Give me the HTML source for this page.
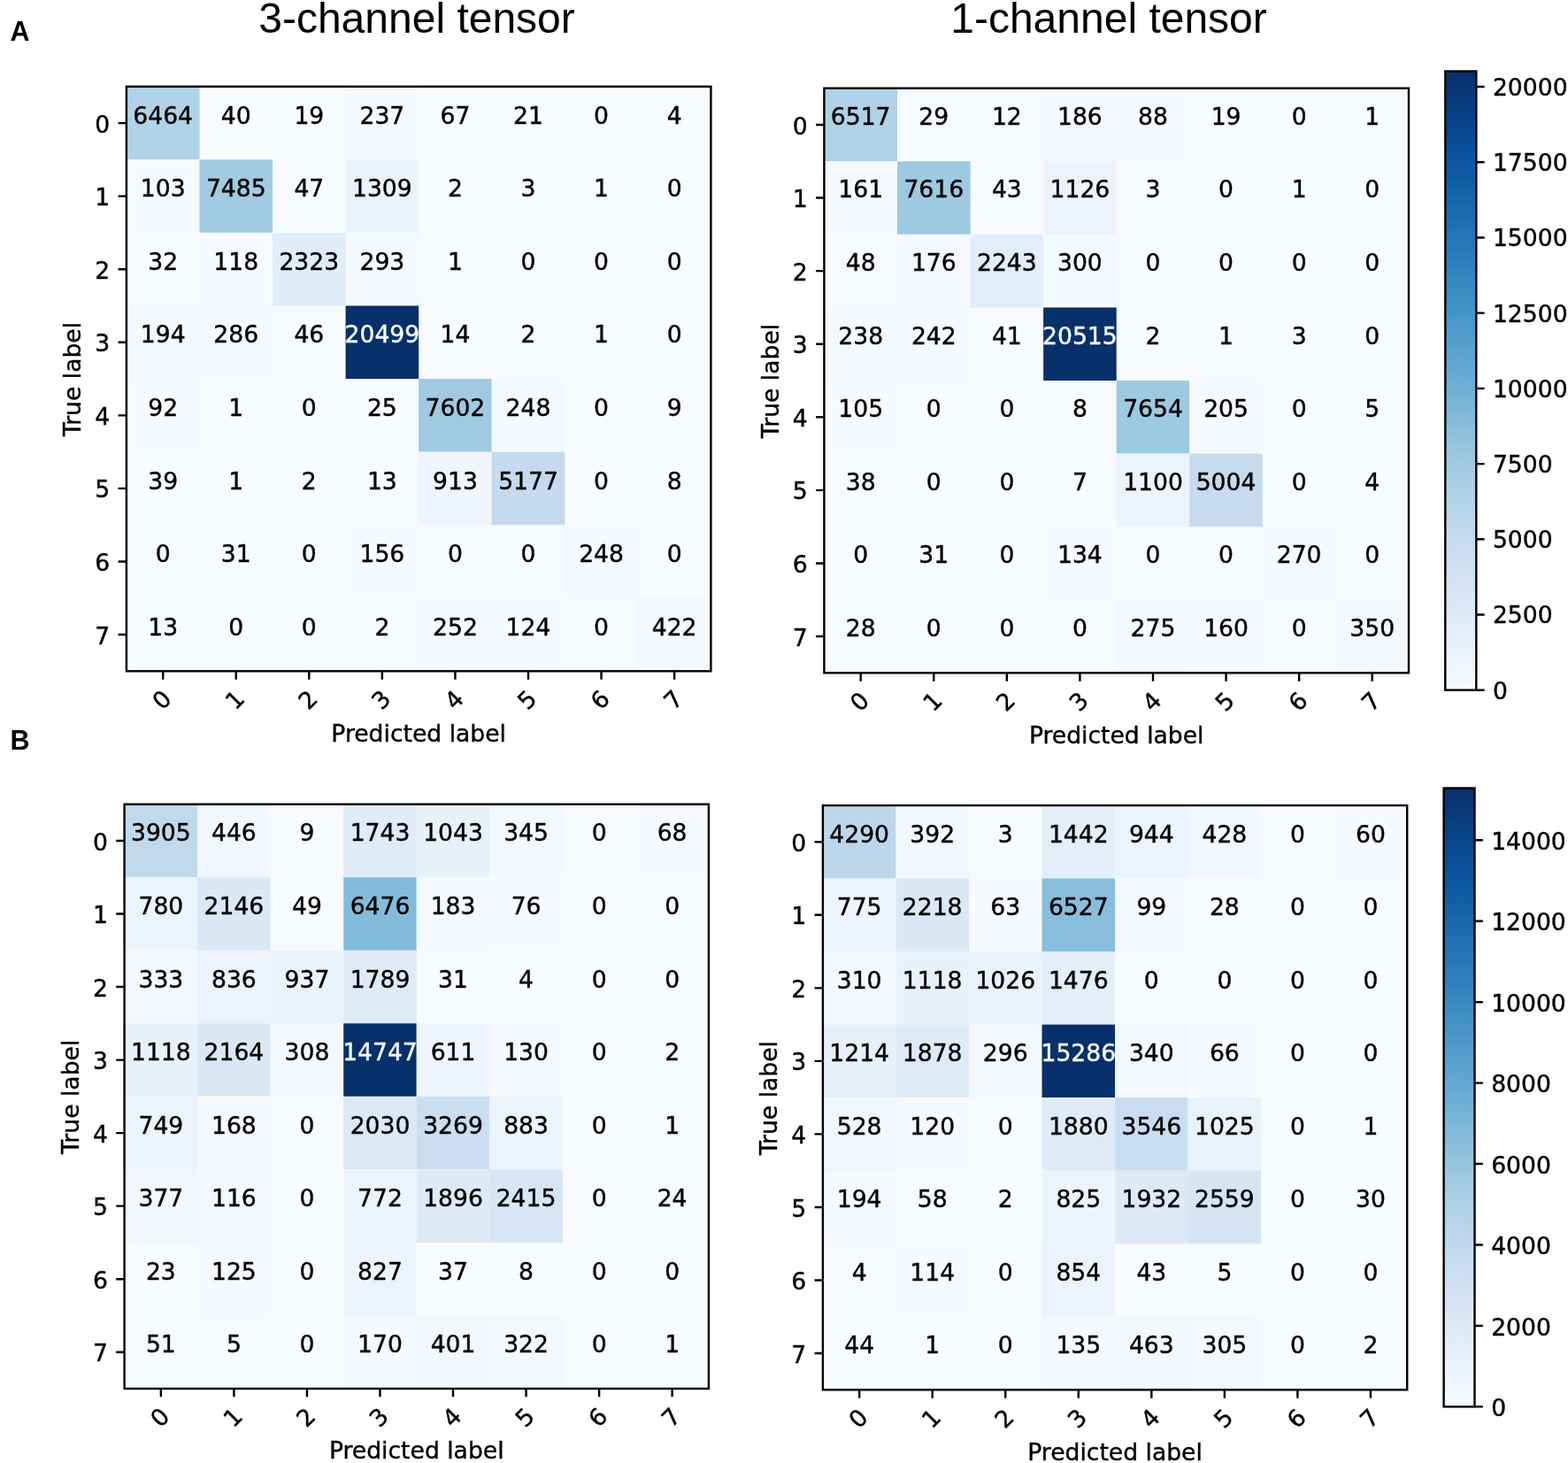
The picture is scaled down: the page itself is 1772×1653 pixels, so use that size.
<!DOCTYPE html>
<html lang="en"><head><meta charset="utf-8"><title>Confusion matrices: 3-channel tensor vs 1-channel tensor</title>
<style>html,body{margin:0;padding:0;background:#fff}body{width:1772px;height:1653px;overflow:hidden}svg{display:block}.m{font-family:"DejaVu Sans","Liberation Sans",sans-serif;font-size:26.6px;fill:#000;stroke:#000;stroke-width:.4px;stroke-linejoin:round}.c{text-anchor:middle}.r{text-anchor:end}.w{fill:#f7fbff;stroke:#f7fbff}.t{font-family:"Liberation Sans","DejaVu Sans",sans-serif;font-size:48px;fill:#000;text-anchor:middle}.p{font-family:"Liberation Sans","DejaVu Sans",sans-serif;font-size:30.5px;font-weight:bold;fill:#000}.k{stroke:#000;stroke-width:2.4;fill:none}</style></head><body>
<svg width="1772" height="1653" viewBox="0 0 1772 1653">
<defs>
<linearGradient id="bl" x1="0" y1="0" x2="0" y2="1"><stop offset="0" stop-color="#08306b"/><stop offset="0.0312" stop-color="#083775"/><stop offset="0.0625" stop-color="#083f82"/><stop offset="0.0938" stop-color="#08478e"/><stop offset="0.125" stop-color="#08509a"/><stop offset="0.1562" stop-color="#0d58a1"/><stop offset="0.1875" stop-color="#1360a7"/><stop offset="0.2188" stop-color="#1a68ae"/><stop offset="0.25" stop-color="#2070b4"/><stop offset="0.2812" stop-color="#2878b8"/><stop offset="0.3125" stop-color="#3080bd"/><stop offset="0.3438" stop-color="#3989c1"/><stop offset="0.375" stop-color="#4191c5"/><stop offset="0.4062" stop-color="#4b98c9"/><stop offset="0.4375" stop-color="#559fcd"/><stop offset="0.4688" stop-color="#60a6d1"/><stop offset="0.5" stop-color="#6aadd5"/><stop offset="0.5312" stop-color="#77b4d8"/><stop offset="0.5625" stop-color="#83bbdb"/><stop offset="0.5938" stop-color="#90c2de"/><stop offset="0.625" stop-color="#9dc9e0"/><stop offset="0.6562" stop-color="#a7cee4"/><stop offset="0.6875" stop-color="#b1d2e7"/><stop offset="0.7188" stop-color="#bbd6eb"/><stop offset="0.75" stop-color="#c5daee"/><stop offset="0.7812" stop-color="#cbdef0"/><stop offset="0.8125" stop-color="#d1e2f2"/><stop offset="0.8438" stop-color="#d7e6f4"/><stop offset="0.875" stop-color="#ddeaf6"/><stop offset="0.9062" stop-color="#e4eef8"/><stop offset="0.9375" stop-color="#eaf2fa"/><stop offset="0.9688" stop-color="#f0f6fc"/><stop offset="1" stop-color="#f7fbff"/></linearGradient>
</defs>
<rect width="1772" height="1653" fill="#fff"/>
<text class="t" x="471" y="36.8">3-channel tensor</text>
<text class="t" x="1253" y="36.8">1-channel tensor</text>
<text class="p" x="11.6" y="46">A</text>
<text class="p" x="11.6" y="847.4">B</text>
<g>
<rect x="142.9" y="97.8" width="660.5" height="660.5" fill="#f7fbff"/>
<rect x="142.9" y="97.8" width="82.56" height="82.56" fill="#b1d2e7"/>
<rect x="390.59" y="97.8" width="82.56" height="82.56" fill="#f5f9fe"/>
<rect x="142.9" y="180.36" width="82.56" height="82.56" fill="#f6fafe"/>
<rect x="225.46" y="180.36" width="82.56" height="82.56" fill="#a1cbe2"/>
<rect x="390.59" y="180.36" width="82.56" height="82.56" fill="#eaf2fa"/>
<rect x="225.46" y="262.93" width="82.56" height="82.56" fill="#f6fafe"/>
<rect x="308.02" y="262.93" width="82.56" height="82.56" fill="#e0ecf7"/>
<rect x="390.59" y="262.93" width="82.56" height="82.56" fill="#f4f9fe"/>
<rect x="142.9" y="345.49" width="82.56" height="82.56" fill="#f5f9fe"/>
<rect x="225.46" y="345.49" width="82.56" height="82.56" fill="#f4f9fe"/>
<rect x="390.59" y="345.49" width="82.56" height="82.56" fill="#08306b"/>
<rect x="142.9" y="428.05" width="82.56" height="82.56" fill="#f6fafe"/>
<rect x="473.15" y="428.05" width="82.56" height="82.56" fill="#a0cae1"/>
<rect x="555.71" y="428.05" width="82.56" height="82.56" fill="#f4f9fe"/>
<rect x="473.15" y="510.61" width="82.56" height="82.56" fill="#eef5fc"/>
<rect x="555.71" y="510.61" width="82.56" height="82.56" fill="#c5daee"/>
<rect x="390.59" y="593.17" width="82.56" height="82.56" fill="#f6fafe"/>
<rect x="638.27" y="593.17" width="82.56" height="82.56" fill="#f4f9fe"/>
<rect x="473.15" y="675.74" width="82.56" height="82.56" fill="#f4f9fe"/>
<rect x="555.71" y="675.74" width="82.56" height="82.56" fill="#f6fafe"/>
<rect x="720.84" y="675.74" width="82.56" height="82.56" fill="#f3f8fd"/>
<rect class="k" x="142.9" y="97.8" width="660.5" height="660.5"/>
<path class="k" d="M142.9 139.08h-9.33M184.18 758.3v9.33M142.9 221.64h-9.33M266.74 758.3v9.33M142.9 304.21h-9.33M349.31 758.3v9.33M142.9 386.77h-9.33M431.87 758.3v9.33M142.9 469.33h-9.33M514.43 758.3v9.33M142.9 551.89h-9.33M596.99 758.3v9.33M142.9 634.46h-9.33M679.56 758.3v9.33M142.9 717.02h-9.33M762.12 758.3v9.33"/>
<text class="m c" x="184.18" y="139.78">6464</text>
<text class="m c" x="266.74" y="139.78">40</text>
<text class="m c" x="349.31" y="139.78">19</text>
<text class="m c" x="431.87" y="139.78">237</text>
<text class="m c" x="514.43" y="139.78">67</text>
<text class="m c" x="596.99" y="139.78">21</text>
<text class="m c" x="679.56" y="139.78">0</text>
<text class="m c" x="762.12" y="139.78">4</text>
<text class="m c" x="184.18" y="222.34">103</text>
<text class="m c" x="266.74" y="222.34">7485</text>
<text class="m c" x="349.31" y="222.34">47</text>
<text class="m c" x="431.87" y="222.34">1309</text>
<text class="m c" x="514.43" y="222.34">2</text>
<text class="m c" x="596.99" y="222.34">3</text>
<text class="m c" x="679.56" y="222.34">1</text>
<text class="m c" x="762.12" y="222.34">0</text>
<text class="m c" x="184.18" y="304.91">32</text>
<text class="m c" x="266.74" y="304.91">118</text>
<text class="m c" x="349.31" y="304.91">2323</text>
<text class="m c" x="431.87" y="304.91">293</text>
<text class="m c" x="514.43" y="304.91">1</text>
<text class="m c" x="596.99" y="304.91">0</text>
<text class="m c" x="679.56" y="304.91">0</text>
<text class="m c" x="762.12" y="304.91">0</text>
<text class="m c" x="184.18" y="387.47">194</text>
<text class="m c" x="266.74" y="387.47">286</text>
<text class="m c" x="349.31" y="387.47">46</text>
<text class="m c w" x="431.87" y="387.47">20499</text>
<text class="m c" x="514.43" y="387.47">14</text>
<text class="m c" x="596.99" y="387.47">2</text>
<text class="m c" x="679.56" y="387.47">1</text>
<text class="m c" x="762.12" y="387.47">0</text>
<text class="m c" x="184.18" y="470.03">92</text>
<text class="m c" x="266.74" y="470.03">1</text>
<text class="m c" x="349.31" y="470.03">0</text>
<text class="m c" x="431.87" y="470.03">25</text>
<text class="m c" x="514.43" y="470.03">7602</text>
<text class="m c" x="596.99" y="470.03">248</text>
<text class="m c" x="679.56" y="470.03">0</text>
<text class="m c" x="762.12" y="470.03">9</text>
<text class="m c" x="184.18" y="552.59">39</text>
<text class="m c" x="266.74" y="552.59">1</text>
<text class="m c" x="349.31" y="552.59">2</text>
<text class="m c" x="431.87" y="552.59">13</text>
<text class="m c" x="514.43" y="552.59">913</text>
<text class="m c" x="596.99" y="552.59">5177</text>
<text class="m c" x="679.56" y="552.59">0</text>
<text class="m c" x="762.12" y="552.59">8</text>
<text class="m c" x="184.18" y="635.16">0</text>
<text class="m c" x="266.74" y="635.16">31</text>
<text class="m c" x="349.31" y="635.16">0</text>
<text class="m c" x="431.87" y="635.16">156</text>
<text class="m c" x="514.43" y="635.16">0</text>
<text class="m c" x="596.99" y="635.16">0</text>
<text class="m c" x="679.56" y="635.16">248</text>
<text class="m c" x="762.12" y="635.16">0</text>
<text class="m c" x="184.18" y="717.72">13</text>
<text class="m c" x="266.74" y="717.72">0</text>
<text class="m c" x="349.31" y="717.72">0</text>
<text class="m c" x="431.87" y="717.72">2</text>
<text class="m c" x="514.43" y="717.72">252</text>
<text class="m c" x="596.99" y="717.72">124</text>
<text class="m c" x="679.56" y="717.72">0</text>
<text class="m c" x="762.12" y="717.72">422</text>
<text class="m r" x="124.24" y="149.68">0</text>
<text class="m r" x="124.24" y="232.24">1</text>
<text class="m r" x="124.24" y="314.81">2</text>
<text class="m r" x="124.24" y="397.37">3</text>
<text class="m r" x="124.24" y="479.93">4</text>
<text class="m r" x="124.24" y="562.49">5</text>
<text class="m r" x="124.24" y="645.06">6</text>
<text class="m r" x="124.24" y="727.62">7</text>
<text class="m c" transform="translate(182.58 790.5) rotate(-45)" y="9.7">0</text>
<text class="m c" transform="translate(265.14 790.5) rotate(-45)" y="9.7">1</text>
<text class="m c" transform="translate(347.71 790.5) rotate(-45)" y="9.7">2</text>
<text class="m c" transform="translate(430.27 790.5) rotate(-45)" y="9.7">3</text>
<text class="m c" transform="translate(512.83 790.5) rotate(-45)" y="9.7">4</text>
<text class="m c" transform="translate(595.39 790.5) rotate(-45)" y="9.7">5</text>
<text class="m c" transform="translate(677.96 790.5) rotate(-45)" y="9.7">6</text>
<text class="m c" transform="translate(760.52 790.5) rotate(-45)" y="9.7">7</text>
<text class="m c" x="473.15" y="837.5">Predicted label</text>
<text class="m c" transform="translate(91.4 428.55) rotate(-90)">True label</text>
</g>
<g>
<rect x="931.4" y="99.7" width="660.6" height="660.6" fill="#f7fbff"/>
<rect x="931.4" y="99.7" width="82.58" height="82.58" fill="#b0d1e7"/>
<rect x="1179.12" y="99.7" width="82.58" height="82.58" fill="#f5f9fe"/>
<rect x="1261.7" y="99.7" width="82.58" height="82.58" fill="#f6fafe"/>
<rect x="931.4" y="182.28" width="82.58" height="82.58" fill="#f5f9fe"/>
<rect x="1013.98" y="182.28" width="82.58" height="82.58" fill="#9ecae1"/>
<rect x="1179.12" y="182.28" width="82.58" height="82.58" fill="#ecf3fb"/>
<rect x="1013.98" y="264.85" width="82.58" height="82.58" fill="#f5f9fe"/>
<rect x="1096.55" y="264.85" width="82.58" height="82.58" fill="#e1edf8"/>
<rect x="1179.12" y="264.85" width="82.58" height="82.58" fill="#f4f9fe"/>
<rect x="931.4" y="347.43" width="82.58" height="82.58" fill="#f5f9fe"/>
<rect x="1013.98" y="347.43" width="82.58" height="82.58" fill="#f4f9fe"/>
<rect x="1179.12" y="347.43" width="82.58" height="82.58" fill="#08306b"/>
<rect x="931.4" y="430" width="82.58" height="82.58" fill="#f6fafe"/>
<rect x="1261.7" y="430" width="82.58" height="82.58" fill="#9ecae1"/>
<rect x="1344.28" y="430" width="82.58" height="82.58" fill="#f5f9fe"/>
<rect x="1261.7" y="512.58" width="82.58" height="82.58" fill="#ecf4fb"/>
<rect x="1344.28" y="512.58" width="82.58" height="82.58" fill="#c7dbef"/>
<rect x="1179.12" y="595.15" width="82.58" height="82.58" fill="#f6fafe"/>
<rect x="1426.85" y="595.15" width="82.58" height="82.58" fill="#f4f9fe"/>
<rect x="1261.7" y="677.73" width="82.58" height="82.58" fill="#f4f9fe"/>
<rect x="1344.28" y="677.73" width="82.58" height="82.58" fill="#f6fafe"/>
<rect x="1509.42" y="677.73" width="82.58" height="82.58" fill="#f3f8fd"/>
<rect class="k" x="931.4" y="99.7" width="660.6" height="660.6"/>
<path class="k" d="M931.4 140.99h-9.33M972.69 760.3v9.33M931.4 223.56h-9.33M1055.26 760.3v9.33M931.4 306.14h-9.33M1137.84 760.3v9.33M931.4 388.71h-9.33M1220.41 760.3v9.33M931.4 471.29h-9.33M1302.99 760.3v9.33M931.4 553.86h-9.33M1385.56 760.3v9.33M931.4 636.44h-9.33M1468.14 760.3v9.33M931.4 719.01h-9.33M1550.71 760.3v9.33"/>
<text class="m c" x="972.69" y="140.89">6517</text>
<text class="m c" x="1055.26" y="140.89">29</text>
<text class="m c" x="1137.84" y="140.89">12</text>
<text class="m c" x="1220.41" y="140.89">186</text>
<text class="m c" x="1302.99" y="140.89">88</text>
<text class="m c" x="1385.56" y="140.89">19</text>
<text class="m c" x="1468.14" y="140.89">0</text>
<text class="m c" x="1550.71" y="140.89">1</text>
<text class="m c" x="972.69" y="223.46">161</text>
<text class="m c" x="1055.26" y="223.46">7616</text>
<text class="m c" x="1137.84" y="223.46">43</text>
<text class="m c" x="1220.41" y="223.46">1126</text>
<text class="m c" x="1302.99" y="223.46">3</text>
<text class="m c" x="1385.56" y="223.46">0</text>
<text class="m c" x="1468.14" y="223.46">1</text>
<text class="m c" x="1550.71" y="223.46">0</text>
<text class="m c" x="972.69" y="306.04">48</text>
<text class="m c" x="1055.26" y="306.04">176</text>
<text class="m c" x="1137.84" y="306.04">2243</text>
<text class="m c" x="1220.41" y="306.04">300</text>
<text class="m c" x="1302.99" y="306.04">0</text>
<text class="m c" x="1385.56" y="306.04">0</text>
<text class="m c" x="1468.14" y="306.04">0</text>
<text class="m c" x="1550.71" y="306.04">0</text>
<text class="m c" x="972.69" y="388.61">238</text>
<text class="m c" x="1055.26" y="388.61">242</text>
<text class="m c" x="1137.84" y="388.61">41</text>
<text class="m c w" x="1220.41" y="388.61">20515</text>
<text class="m c" x="1302.99" y="388.61">2</text>
<text class="m c" x="1385.56" y="388.61">1</text>
<text class="m c" x="1468.14" y="388.61">3</text>
<text class="m c" x="1550.71" y="388.61">0</text>
<text class="m c" x="972.69" y="471.19">105</text>
<text class="m c" x="1055.26" y="471.19">0</text>
<text class="m c" x="1137.84" y="471.19">0</text>
<text class="m c" x="1220.41" y="471.19">8</text>
<text class="m c" x="1302.99" y="471.19">7654</text>
<text class="m c" x="1385.56" y="471.19">205</text>
<text class="m c" x="1468.14" y="471.19">0</text>
<text class="m c" x="1550.71" y="471.19">5</text>
<text class="m c" x="972.69" y="553.76">38</text>
<text class="m c" x="1055.26" y="553.76">0</text>
<text class="m c" x="1137.84" y="553.76">0</text>
<text class="m c" x="1220.41" y="553.76">7</text>
<text class="m c" x="1302.99" y="553.76">1100</text>
<text class="m c" x="1385.56" y="553.76">5004</text>
<text class="m c" x="1468.14" y="553.76">0</text>
<text class="m c" x="1550.71" y="553.76">4</text>
<text class="m c" x="972.69" y="636.34">0</text>
<text class="m c" x="1055.26" y="636.34">31</text>
<text class="m c" x="1137.84" y="636.34">0</text>
<text class="m c" x="1220.41" y="636.34">134</text>
<text class="m c" x="1302.99" y="636.34">0</text>
<text class="m c" x="1385.56" y="636.34">0</text>
<text class="m c" x="1468.14" y="636.34">270</text>
<text class="m c" x="1550.71" y="636.34">0</text>
<text class="m c" x="972.69" y="718.91">28</text>
<text class="m c" x="1055.26" y="718.91">0</text>
<text class="m c" x="1137.84" y="718.91">0</text>
<text class="m c" x="1220.41" y="718.91">0</text>
<text class="m c" x="1302.99" y="718.91">275</text>
<text class="m c" x="1385.56" y="718.91">160</text>
<text class="m c" x="1468.14" y="718.91">0</text>
<text class="m c" x="1550.71" y="718.91">350</text>
<text class="m r" x="912.74" y="151.59">0</text>
<text class="m r" x="912.74" y="234.16">1</text>
<text class="m r" x="912.74" y="316.74">2</text>
<text class="m r" x="912.74" y="399.31">3</text>
<text class="m r" x="912.74" y="481.89">4</text>
<text class="m r" x="912.74" y="564.46">5</text>
<text class="m r" x="912.74" y="647.04">6</text>
<text class="m r" x="912.74" y="729.61">7</text>
<text class="m c" transform="translate(971.09 792.5) rotate(-45)" y="9.7">0</text>
<text class="m c" transform="translate(1053.66 792.5) rotate(-45)" y="9.7">1</text>
<text class="m c" transform="translate(1136.24 792.5) rotate(-45)" y="9.7">2</text>
<text class="m c" transform="translate(1218.81 792.5) rotate(-45)" y="9.7">3</text>
<text class="m c" transform="translate(1301.39 792.5) rotate(-45)" y="9.7">4</text>
<text class="m c" transform="translate(1383.96 792.5) rotate(-45)" y="9.7">5</text>
<text class="m c" transform="translate(1466.54 792.5) rotate(-45)" y="9.7">6</text>
<text class="m c" transform="translate(1549.11 792.5) rotate(-45)" y="9.7">7</text>
<text class="m c" x="1261.7" y="839.5">Predicted label</text>
<text class="m c" transform="translate(879.9 430.5) rotate(-90)">True label</text>
</g>
<g>
<rect x="140.6" y="908.7" width="660.3" height="660.3" fill="#f7fbff"/>
<rect x="140.6" y="908.7" width="82.54" height="82.54" fill="#c1d9ed"/>
<rect x="223.14" y="908.7" width="82.54" height="82.54" fill="#f1f7fd"/>
<rect x="388.21" y="908.7" width="82.54" height="82.54" fill="#dfebf7"/>
<rect x="470.75" y="908.7" width="82.54" height="82.54" fill="#e8f1fa"/>
<rect x="553.29" y="908.7" width="82.54" height="82.54" fill="#f3f8fd"/>
<rect x="718.36" y="908.7" width="82.54" height="82.54" fill="#f6fafe"/>
<rect x="140.6" y="991.24" width="82.54" height="82.54" fill="#ecf4fb"/>
<rect x="223.14" y="991.24" width="82.54" height="82.54" fill="#dae8f5"/>
<rect x="388.21" y="991.24" width="82.54" height="82.54" fill="#83bbdb"/>
<rect x="470.75" y="991.24" width="82.54" height="82.54" fill="#f4f9fe"/>
<rect x="553.29" y="991.24" width="82.54" height="82.54" fill="#f6fafe"/>
<rect x="140.6" y="1073.78" width="82.54" height="82.54" fill="#f3f8fd"/>
<rect x="223.14" y="1073.78" width="82.54" height="82.54" fill="#ecf3fb"/>
<rect x="305.67" y="1073.78" width="82.54" height="82.54" fill="#eaf2fa"/>
<rect x="388.21" y="1073.78" width="82.54" height="82.54" fill="#deebf7"/>
<rect x="140.6" y="1156.31" width="82.54" height="82.54" fill="#e8f1fa"/>
<rect x="223.14" y="1156.31" width="82.54" height="82.54" fill="#dae8f5"/>
<rect x="305.67" y="1156.31" width="82.54" height="82.54" fill="#f3f8fd"/>
<rect x="388.21" y="1156.31" width="82.54" height="82.54" fill="#08306b"/>
<rect x="470.75" y="1156.31" width="82.54" height="82.54" fill="#eff5fc"/>
<rect x="553.29" y="1156.31" width="82.54" height="82.54" fill="#f5f9fe"/>
<rect x="140.6" y="1238.85" width="82.54" height="82.54" fill="#ecf4fb"/>
<rect x="223.14" y="1238.85" width="82.54" height="82.54" fill="#f5f9fe"/>
<rect x="388.21" y="1238.85" width="82.54" height="82.54" fill="#dbe9f6"/>
<rect x="470.75" y="1238.85" width="82.54" height="82.54" fill="#cbdef0"/>
<rect x="553.29" y="1238.85" width="82.54" height="82.54" fill="#ebf3fb"/>
<rect x="140.6" y="1321.39" width="82.54" height="82.54" fill="#f2f7fd"/>
<rect x="223.14" y="1321.39" width="82.54" height="82.54" fill="#f5f9fe"/>
<rect x="388.21" y="1321.39" width="82.54" height="82.54" fill="#ecf4fb"/>
<rect x="470.75" y="1321.39" width="82.54" height="82.54" fill="#ddeaf6"/>
<rect x="553.29" y="1321.39" width="82.54" height="82.54" fill="#d7e6f4"/>
<rect x="223.14" y="1403.92" width="82.54" height="82.54" fill="#f5f9fe"/>
<rect x="388.21" y="1403.92" width="82.54" height="82.54" fill="#ecf3fb"/>
<rect x="388.21" y="1486.46" width="82.54" height="82.54" fill="#f5f9fe"/>
<rect x="470.75" y="1486.46" width="82.54" height="82.54" fill="#f2f7fd"/>
<rect x="553.29" y="1486.46" width="82.54" height="82.54" fill="#f3f8fd"/>
<rect class="k" x="140.6" y="908.7" width="660.3" height="660.3"/>
<path class="k" d="M140.6 949.97h-9.33M181.87 1569v9.33M140.6 1032.51h-9.33M264.41 1569v9.33M140.6 1115.04h-9.33M346.94 1569v9.33M140.6 1197.58h-9.33M429.48 1569v9.33M140.6 1280.12h-9.33M512.02 1569v9.33M140.6 1362.66h-9.33M594.56 1569v9.33M140.6 1445.19h-9.33M677.09 1569v9.33M140.6 1527.73h-9.33M759.63 1569v9.33"/>
<text class="m c" x="181.87" y="950.47">3905</text>
<text class="m c" x="264.41" y="950.47">446</text>
<text class="m c" x="346.94" y="950.47">9</text>
<text class="m c" x="429.48" y="950.47">1743</text>
<text class="m c" x="512.02" y="950.47">1043</text>
<text class="m c" x="594.56" y="950.47">345</text>
<text class="m c" x="677.09" y="950.47">0</text>
<text class="m c" x="759.63" y="950.47">68</text>
<text class="m c" x="181.87" y="1033.01">780</text>
<text class="m c" x="264.41" y="1033.01">2146</text>
<text class="m c" x="346.94" y="1033.01">49</text>
<text class="m c" x="429.48" y="1033.01">6476</text>
<text class="m c" x="512.02" y="1033.01">183</text>
<text class="m c" x="594.56" y="1033.01">76</text>
<text class="m c" x="677.09" y="1033.01">0</text>
<text class="m c" x="759.63" y="1033.01">0</text>
<text class="m c" x="181.87" y="1115.54">333</text>
<text class="m c" x="264.41" y="1115.54">836</text>
<text class="m c" x="346.94" y="1115.54">937</text>
<text class="m c" x="429.48" y="1115.54">1789</text>
<text class="m c" x="512.02" y="1115.54">31</text>
<text class="m c" x="594.56" y="1115.54">4</text>
<text class="m c" x="677.09" y="1115.54">0</text>
<text class="m c" x="759.63" y="1115.54">0</text>
<text class="m c" x="181.87" y="1198.08">1118</text>
<text class="m c" x="264.41" y="1198.08">2164</text>
<text class="m c" x="346.94" y="1198.08">308</text>
<text class="m c w" x="429.48" y="1198.08">14747</text>
<text class="m c" x="512.02" y="1198.08">611</text>
<text class="m c" x="594.56" y="1198.08">130</text>
<text class="m c" x="677.09" y="1198.08">0</text>
<text class="m c" x="759.63" y="1198.08">2</text>
<text class="m c" x="181.87" y="1280.62">749</text>
<text class="m c" x="264.41" y="1280.62">168</text>
<text class="m c" x="346.94" y="1280.62">0</text>
<text class="m c" x="429.48" y="1280.62">2030</text>
<text class="m c" x="512.02" y="1280.62">3269</text>
<text class="m c" x="594.56" y="1280.62">883</text>
<text class="m c" x="677.09" y="1280.62">0</text>
<text class="m c" x="759.63" y="1280.62">1</text>
<text class="m c" x="181.87" y="1363.16">377</text>
<text class="m c" x="264.41" y="1363.16">116</text>
<text class="m c" x="346.94" y="1363.16">0</text>
<text class="m c" x="429.48" y="1363.16">772</text>
<text class="m c" x="512.02" y="1363.16">1896</text>
<text class="m c" x="594.56" y="1363.16">2415</text>
<text class="m c" x="677.09" y="1363.16">0</text>
<text class="m c" x="759.63" y="1363.16">24</text>
<text class="m c" x="181.87" y="1445.69">23</text>
<text class="m c" x="264.41" y="1445.69">125</text>
<text class="m c" x="346.94" y="1445.69">0</text>
<text class="m c" x="429.48" y="1445.69">827</text>
<text class="m c" x="512.02" y="1445.69">37</text>
<text class="m c" x="594.56" y="1445.69">8</text>
<text class="m c" x="677.09" y="1445.69">0</text>
<text class="m c" x="759.63" y="1445.69">0</text>
<text class="m c" x="181.87" y="1528.23">51</text>
<text class="m c" x="264.41" y="1528.23">5</text>
<text class="m c" x="346.94" y="1528.23">0</text>
<text class="m c" x="429.48" y="1528.23">170</text>
<text class="m c" x="512.02" y="1528.23">401</text>
<text class="m c" x="594.56" y="1528.23">322</text>
<text class="m c" x="677.09" y="1528.23">0</text>
<text class="m c" x="759.63" y="1528.23">1</text>
<text class="m r" x="121.94" y="960.57">0</text>
<text class="m r" x="121.94" y="1043.11">1</text>
<text class="m r" x="121.94" y="1125.64">2</text>
<text class="m r" x="121.94" y="1208.18">3</text>
<text class="m r" x="121.94" y="1290.72">4</text>
<text class="m r" x="121.94" y="1373.26">5</text>
<text class="m r" x="121.94" y="1455.79">6</text>
<text class="m r" x="121.94" y="1538.33">7</text>
<text class="m c" transform="translate(180.27 1601.2) rotate(-45)" y="9.7">0</text>
<text class="m c" transform="translate(262.81 1601.2) rotate(-45)" y="9.7">1</text>
<text class="m c" transform="translate(345.34 1601.2) rotate(-45)" y="9.7">2</text>
<text class="m c" transform="translate(427.88 1601.2) rotate(-45)" y="9.7">3</text>
<text class="m c" transform="translate(510.42 1601.2) rotate(-45)" y="9.7">4</text>
<text class="m c" transform="translate(592.96 1601.2) rotate(-45)" y="9.7">5</text>
<text class="m c" transform="translate(675.49 1601.2) rotate(-45)" y="9.7">6</text>
<text class="m c" transform="translate(758.03 1601.2) rotate(-45)" y="9.7">7</text>
<text class="m c" x="470.75" y="1648.2">Predicted label</text>
<text class="m c" transform="translate(89.1 1239.35) rotate(-90)">True label</text>
</g>
<g>
<rect x="929.9" y="910" width="660.3" height="660.3" fill="#f7fbff"/>
<rect x="929.9" y="910" width="82.54" height="82.54" fill="#bcd7eb"/>
<rect x="1012.44" y="910" width="82.54" height="82.54" fill="#f2f7fd"/>
<rect x="1177.51" y="910" width="82.54" height="82.54" fill="#e4eef8"/>
<rect x="1260.05" y="910" width="82.54" height="82.54" fill="#ebf3fb"/>
<rect x="1342.59" y="910" width="82.54" height="82.54" fill="#f1f7fd"/>
<rect x="1507.66" y="910" width="82.54" height="82.54" fill="#f6fafe"/>
<rect x="929.9" y="992.54" width="82.54" height="82.54" fill="#edf4fb"/>
<rect x="1012.44" y="992.54" width="82.54" height="82.54" fill="#dae8f5"/>
<rect x="1094.97" y="992.54" width="82.54" height="82.54" fill="#f6fafe"/>
<rect x="1177.51" y="992.54" width="82.54" height="82.54" fill="#88bedc"/>
<rect x="1260.05" y="992.54" width="82.54" height="82.54" fill="#f6fafe"/>
<rect x="929.9" y="1075.08" width="82.54" height="82.54" fill="#f3f8fd"/>
<rect x="1012.44" y="1075.08" width="82.54" height="82.54" fill="#e8f1fa"/>
<rect x="1094.97" y="1075.08" width="82.54" height="82.54" fill="#e9f2fa"/>
<rect x="1177.51" y="1075.08" width="82.54" height="82.54" fill="#e4eef8"/>
<rect x="929.9" y="1157.61" width="82.54" height="82.54" fill="#e7f0f9"/>
<rect x="1012.44" y="1157.61" width="82.54" height="82.54" fill="#deebf7"/>
<rect x="1094.97" y="1157.61" width="82.54" height="82.54" fill="#f3f8fd"/>
<rect x="1177.51" y="1157.61" width="82.54" height="82.54" fill="#08306b"/>
<rect x="1260.05" y="1157.61" width="82.54" height="82.54" fill="#f3f8fd"/>
<rect x="1342.59" y="1157.61" width="82.54" height="82.54" fill="#f6fafe"/>
<rect x="929.9" y="1240.15" width="82.54" height="82.54" fill="#f0f6fc"/>
<rect x="1012.44" y="1240.15" width="82.54" height="82.54" fill="#f5f9fe"/>
<rect x="1177.51" y="1240.15" width="82.54" height="82.54" fill="#deebf7"/>
<rect x="1260.05" y="1240.15" width="82.54" height="82.54" fill="#c9ddf0"/>
<rect x="1342.59" y="1240.15" width="82.54" height="82.54" fill="#e9f2fa"/>
<rect x="929.9" y="1322.69" width="82.54" height="82.54" fill="#f4f9fe"/>
<rect x="1177.51" y="1322.69" width="82.54" height="82.54" fill="#ecf4fb"/>
<rect x="1260.05" y="1322.69" width="82.54" height="82.54" fill="#ddeaf6"/>
<rect x="1342.59" y="1322.69" width="82.54" height="82.54" fill="#d6e5f4"/>
<rect x="1012.44" y="1405.22" width="82.54" height="82.54" fill="#f6fafe"/>
<rect x="1177.51" y="1405.22" width="82.54" height="82.54" fill="#ecf3fb"/>
<rect x="1177.51" y="1487.76" width="82.54" height="82.54" fill="#f5f9fe"/>
<rect x="1260.05" y="1487.76" width="82.54" height="82.54" fill="#f1f7fd"/>
<rect x="1342.59" y="1487.76" width="82.54" height="82.54" fill="#f3f8fd"/>
<rect class="k" x="929.9" y="910" width="660.3" height="660.3"/>
<path class="k" d="M929.9 951.27h-9.33M971.17 1570.3v9.33M929.9 1033.81h-9.33M1053.71 1570.3v9.33M929.9 1116.34h-9.33M1136.24 1570.3v9.33M929.9 1198.88h-9.33M1218.78 1570.3v9.33M929.9 1281.42h-9.33M1301.32 1570.3v9.33M929.9 1363.96h-9.33M1383.86 1570.3v9.33M929.9 1446.49h-9.33M1466.39 1570.3v9.33M929.9 1529.03h-9.33M1548.93 1570.3v9.33"/>
<text class="m c" x="971.17" y="951.57">4290</text>
<text class="m c" x="1053.71" y="951.57">392</text>
<text class="m c" x="1136.24" y="951.57">3</text>
<text class="m c" x="1218.78" y="951.57">1442</text>
<text class="m c" x="1301.32" y="951.57">944</text>
<text class="m c" x="1383.86" y="951.57">428</text>
<text class="m c" x="1466.39" y="951.57">0</text>
<text class="m c" x="1548.93" y="951.57">60</text>
<text class="m c" x="971.17" y="1034.11">775</text>
<text class="m c" x="1053.71" y="1034.11">2218</text>
<text class="m c" x="1136.24" y="1034.11">63</text>
<text class="m c" x="1218.78" y="1034.11">6527</text>
<text class="m c" x="1301.32" y="1034.11">99</text>
<text class="m c" x="1383.86" y="1034.11">28</text>
<text class="m c" x="1466.39" y="1034.11">0</text>
<text class="m c" x="1548.93" y="1034.11">0</text>
<text class="m c" x="971.17" y="1116.64">310</text>
<text class="m c" x="1053.71" y="1116.64">1118</text>
<text class="m c" x="1136.24" y="1116.64">1026</text>
<text class="m c" x="1218.78" y="1116.64">1476</text>
<text class="m c" x="1301.32" y="1116.64">0</text>
<text class="m c" x="1383.86" y="1116.64">0</text>
<text class="m c" x="1466.39" y="1116.64">0</text>
<text class="m c" x="1548.93" y="1116.64">0</text>
<text class="m c" x="971.17" y="1199.18">1214</text>
<text class="m c" x="1053.71" y="1199.18">1878</text>
<text class="m c" x="1136.24" y="1199.18">296</text>
<text class="m c w" x="1218.78" y="1199.18">15286</text>
<text class="m c" x="1301.32" y="1199.18">340</text>
<text class="m c" x="1383.86" y="1199.18">66</text>
<text class="m c" x="1466.39" y="1199.18">0</text>
<text class="m c" x="1548.93" y="1199.18">0</text>
<text class="m c" x="971.17" y="1281.72">528</text>
<text class="m c" x="1053.71" y="1281.72">120</text>
<text class="m c" x="1136.24" y="1281.72">0</text>
<text class="m c" x="1218.78" y="1281.72">1880</text>
<text class="m c" x="1301.32" y="1281.72">3546</text>
<text class="m c" x="1383.86" y="1281.72">1025</text>
<text class="m c" x="1466.39" y="1281.72">0</text>
<text class="m c" x="1548.93" y="1281.72">1</text>
<text class="m c" x="971.17" y="1364.26">194</text>
<text class="m c" x="1053.71" y="1364.26">58</text>
<text class="m c" x="1136.24" y="1364.26">2</text>
<text class="m c" x="1218.78" y="1364.26">825</text>
<text class="m c" x="1301.32" y="1364.26">1932</text>
<text class="m c" x="1383.86" y="1364.26">2559</text>
<text class="m c" x="1466.39" y="1364.26">0</text>
<text class="m c" x="1548.93" y="1364.26">30</text>
<text class="m c" x="971.17" y="1446.79">4</text>
<text class="m c" x="1053.71" y="1446.79">114</text>
<text class="m c" x="1136.24" y="1446.79">0</text>
<text class="m c" x="1218.78" y="1446.79">854</text>
<text class="m c" x="1301.32" y="1446.79">43</text>
<text class="m c" x="1383.86" y="1446.79">5</text>
<text class="m c" x="1466.39" y="1446.79">0</text>
<text class="m c" x="1548.93" y="1446.79">0</text>
<text class="m c" x="971.17" y="1529.33">44</text>
<text class="m c" x="1053.71" y="1529.33">1</text>
<text class="m c" x="1136.24" y="1529.33">0</text>
<text class="m c" x="1218.78" y="1529.33">135</text>
<text class="m c" x="1301.32" y="1529.33">463</text>
<text class="m c" x="1383.86" y="1529.33">305</text>
<text class="m c" x="1466.39" y="1529.33">0</text>
<text class="m c" x="1548.93" y="1529.33">2</text>
<text class="m r" x="911.24" y="961.87">0</text>
<text class="m r" x="911.24" y="1044.41">1</text>
<text class="m r" x="911.24" y="1126.94">2</text>
<text class="m r" x="911.24" y="1209.48">3</text>
<text class="m r" x="911.24" y="1292.02">4</text>
<text class="m r" x="911.24" y="1374.56">5</text>
<text class="m r" x="911.24" y="1457.09">6</text>
<text class="m r" x="911.24" y="1539.63">7</text>
<text class="m c" transform="translate(969.57 1602.5) rotate(-45)" y="9.7">0</text>
<text class="m c" transform="translate(1052.11 1602.5) rotate(-45)" y="9.7">1</text>
<text class="m c" transform="translate(1134.64 1602.5) rotate(-45)" y="9.7">2</text>
<text class="m c" transform="translate(1217.18 1602.5) rotate(-45)" y="9.7">3</text>
<text class="m c" transform="translate(1299.72 1602.5) rotate(-45)" y="9.7">4</text>
<text class="m c" transform="translate(1382.26 1602.5) rotate(-45)" y="9.7">5</text>
<text class="m c" transform="translate(1464.79 1602.5) rotate(-45)" y="9.7">6</text>
<text class="m c" transform="translate(1547.33 1602.5) rotate(-45)" y="9.7">7</text>
<text class="m c" x="1260.05" y="1649.5">Predicted label</text>
<text class="m c" transform="translate(878.4 1240.65) rotate(-90)">True label</text>
</g>
<g>
<rect x="1633.3" y="80.5" width="35" height="699.2" fill="url(#bl)" stroke="#000" stroke-width="2.4"/>
<text class="m" x="1686.96" y="789.7">0</text>
<text class="m" x="1686.96" y="704.49">2500</text>
<text class="m" x="1686.96" y="619.29">5000</text>
<text class="m" x="1686.96" y="534.08">7500</text>
<text class="m" x="1686.96" y="448.88">10000</text>
<text class="m" x="1686.96" y="363.67">12500</text>
<text class="m" x="1686.96" y="278.46">15000</text>
<text class="m" x="1686.96" y="193.26">17500</text>
<text class="m" x="1686.96" y="108.05">20000</text>
<path class="k" d="M1668.3 779.7h9.33M1668.3 694.49h9.33M1668.3 609.29h9.33M1668.3 524.08h9.33M1668.3 438.88h9.33M1668.3 353.67h9.33M1668.3 268.46h9.33M1668.3 183.26h9.33M1668.3 98.05h9.33"/>
</g>
<g>
<rect x="1631.6" y="890.5" width="34.9" height="698.9" fill="url(#bl)" stroke="#000" stroke-width="2.4"/>
<text class="m" x="1685.16" y="1600.1">0</text>
<text class="m" x="1685.16" y="1508.66">2000</text>
<text class="m" x="1685.16" y="1417.21">4000</text>
<text class="m" x="1685.16" y="1325.77">6000</text>
<text class="m" x="1685.16" y="1234.33">8000</text>
<text class="m" x="1685.16" y="1142.88">10000</text>
<text class="m" x="1685.16" y="1051.44">12000</text>
<text class="m" x="1685.16" y="960">14000</text>
<path class="k" d="M1666.5 1589.4h9.33M1666.5 1497.96h9.33M1666.5 1406.51h9.33M1666.5 1315.07h9.33M1666.5 1223.63h9.33M1666.5 1132.18h9.33M1666.5 1040.74h9.33M1666.5 949.3h9.33"/>
</g>
</svg></body></html>
